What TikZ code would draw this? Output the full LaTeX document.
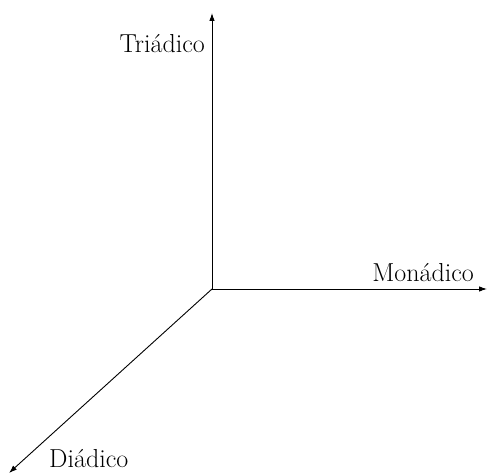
\documentclass[tikz,border=0pt]{standalone}
\usepackage{tikz}
\usetikzlibrary{arrows.meta}

\begin{document}
\begin{tikzpicture}[x=1pt, y=1pt,
    eje/.style={-{Latex[length=8pt,width=5.5pt]}, line width=0.9pt},
    etiqueta/.style={inner sep=0pt, font=\fontsize{26}{30}\selectfont}]
    \useasboundingbox (0,0) rectangle (488,476);

%ejes
    \coordinate (O) at (212,187);
    \coordinate (tri) at (212,463);
    \coordinate (mon) at (487,187);
    \coordinate (dia) at (9,3);
    \draw[eje] (O) -- (tri);
    \draw[eje] (O) -- (mon);
    \draw[eje] (O) -- (dia);

%etiquetas
    \node[etiqueta, anchor=base east] (Ltri) at (205,423) {Triádico};
    \node[etiqueta, anchor=base east] (Lmon) at (474,194) {Monádico};
    \node[etiqueta, anchor=base west] (Ldia) at (49,8) {Diádico};

\end{tikzpicture}
\end{document}
